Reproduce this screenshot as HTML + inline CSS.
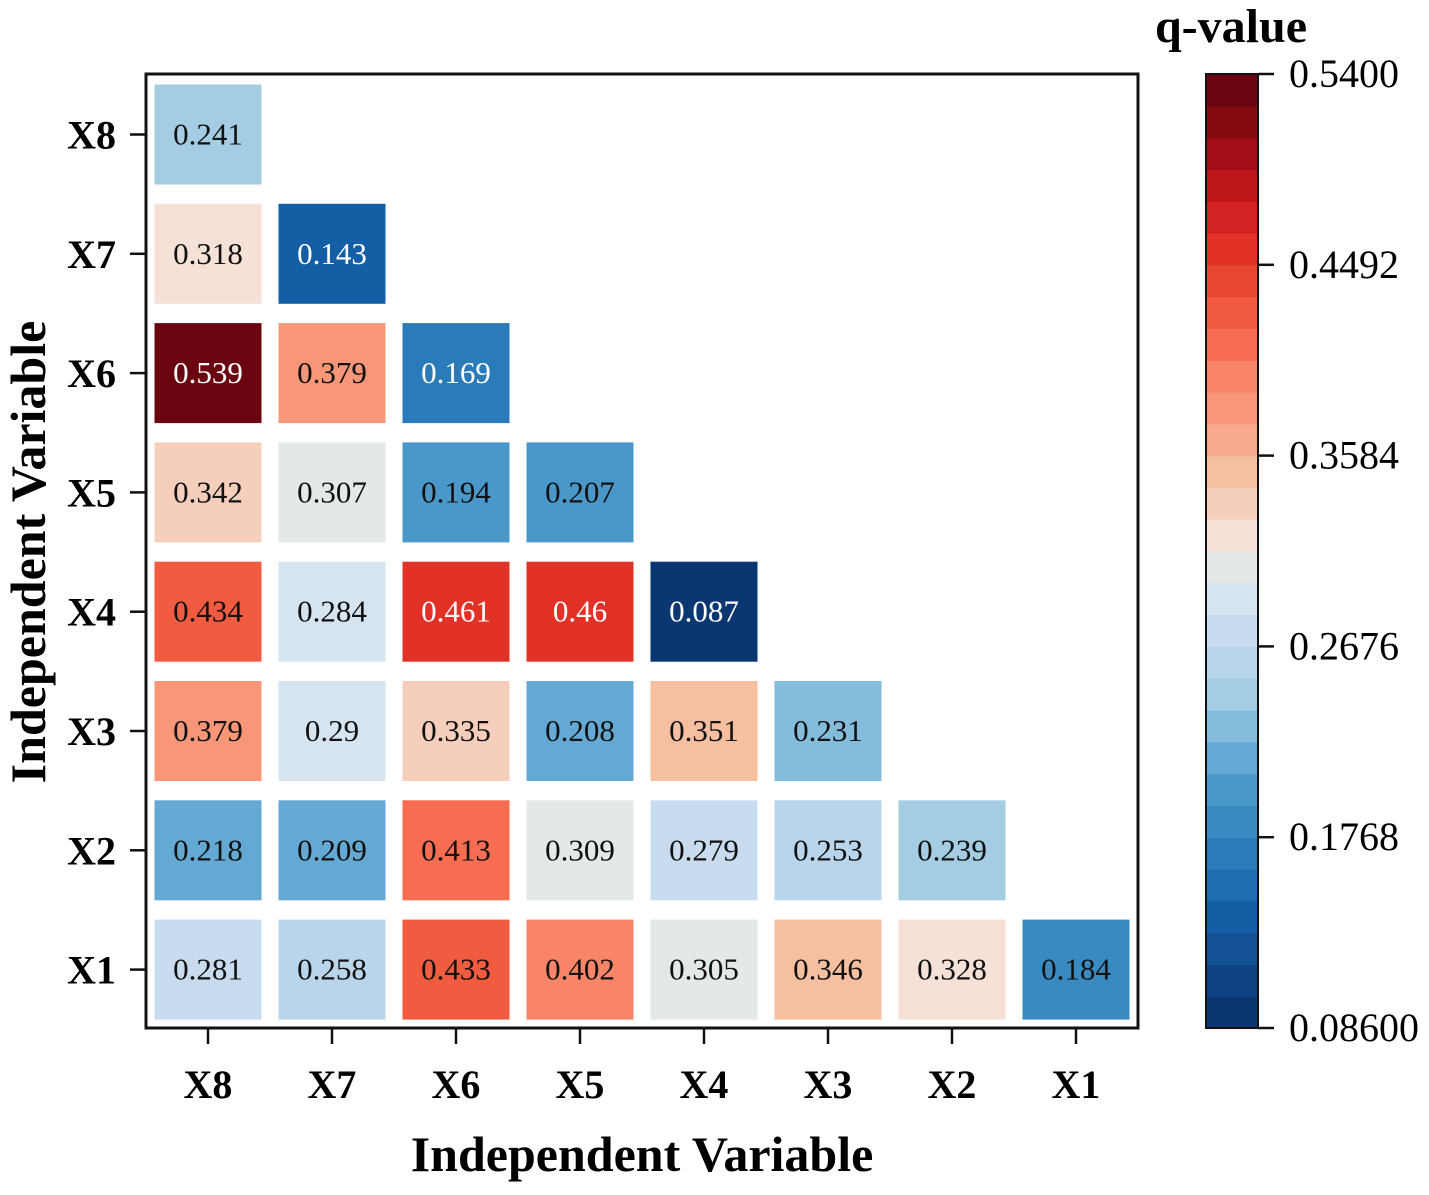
<!DOCTYPE html>
<html><head><meta charset="utf-8"><style>
body{margin:0;background:#fff;}
svg text{font-family:"Liberation Serif",serif;}
</style></head><body>
<svg id="chart" width="1429" height="1190" xmlns="http://www.w3.org/2000/svg">
<rect width="1429" height="1190" fill="#fff"/>
<g id="cells"></g>
<rect x="146" y="74" width="992" height="954" fill="none" stroke="#111" stroke-width="3"/>
<g id="axes"></g>
<text x="642" y="1171" font-size="50" font-weight="bold" text-anchor="middle">Independent Variable</text>
<text transform="translate(45,552) rotate(-90)" font-size="50" font-weight="bold" text-anchor="middle">Independent Variable</text>
<text x="1231" y="42" font-size="48" font-weight="bold" text-anchor="middle">q-value</text>
<g id="cbar"></g>
</svg>
<script>
const labels=["X8","X7","X6","X5","X4","X3","X2","X1"];
const rowX8=[0.241];
const rowX7=[0.318,0.143];
const rowX6=[0.539,0.379,0.169];
const rowX5=[0.342,0.307,0.194,0.207];
const rowX4=[0.434,0.284,0.461,0.46,0.087];
const rowX3=[0.379,0.29,0.335,0.208,0.351,0.231];
const rowX2=[0.218,0.209,0.413,0.309,0.279,0.253,0.239];
const rowX1=[0.281,0.258,0.433,0.402,0.305,0.346,0.328,0.184];
const cbTicks=["0.5400","0.4492","0.3584","0.2676","0.1768","0.08600"];
const vmin=0.086, vmax=0.54, nBins=30;
const rows=[rowX8,rowX7,rowX6,rowX5,rowX4,rowX3,rowX2,rowX1];
const stops=[[0.087,"#08306b"],[0.143,"#1562a9"],[0.169,"#2b7bba"],[0.184,"#3a8ac2"],[0.194,"#4292c6"],[0.208,"#57a0ce"],[0.218,"#6aaed6"],[0.231,"#87bddc"],[0.241,"#9ecae1"],[0.258,"#b7d4ea"],[0.279,"#cddcf0"],[0.29,"#d6e4f0"],[0.307,"#e3e9e6"],[0.318,"#f5e4dc"],[0.335,"#f6d0bd"],[0.351,"#f6bfa0"],[0.379,"#f79a7a"],[0.402,"#fa7e62"],[0.413,"#f76a4e"],[0.434,"#ee5236"],[0.46,"#e02e26"],[0.48,"#c81a1e"],[0.5,"#a80f16"],[0.52,"#800a12"],[0.54,"#5f0010"]];
function hex(h){return [1,3,5].map(i=>parseInt(h.substr(i,2),16));}
function interp(v){
 if(v<=stops[0][0])return stops[0][1];
 for(let i=1;i<stops.length;i++){if(v<=stops[i][0]){const a=stops[i-1],b=stops[i];const t=(v-a[0])/(b[0]-a[0]);const ca=hex(a[1]),cb=hex(b[1]);return "rgb("+ca.map((c,k)=>Math.round(c+(cb[k]-c)*t)).join(",")+")";}}
 return stops[stops.length-1][1];}
function color(v){let b=Math.floor((v-vmin)/(vmax-vmin)*nBins);b=Math.max(0,Math.min(nBins-1,b));return interp(vmin+(b+0.5)*(vmax-vmin)/nBins);}
const NS="http://www.w3.org/2000/svg";
function xc(i){return 208+i*124;}
function yc(j){return 134.5+j*119.3;}
function cbY(v){return 1028-(v-vmin)/(vmax-vmin)*954;}
function mk(tag,attrs,parent){const e=document.createElementNS(NS,tag);for(const k in attrs)e.setAttribute(k,attrs[k]);parent.appendChild(e);return e;}
const cells=document.getElementById('cells');
rows.forEach((r,j)=>r.forEach((v,i)=>{
 const rc=mk('rect',{x:xc(i)-53.5,y:yc(j)-50,width:107,height:100,fill:color(v)},cells);
 
 
 const t=mk('text',{x:xc(i),y:yc(j)+10,'font-size':31,'text-anchor':'middle',fill:(v<0.175||v>0.445)?'#fff':'#111'},cells);
 
 
 t.textContent=String(v);
}));
const axes=document.getElementById('axes');
labels.forEach((l,j)=>{
 mk('line',{x1:130,x2:146,y1:yc(j),y2:yc(j),stroke:'#111','stroke-width':2.5},axes);
 const t=mk('text',{x:116,y:yc(j)+14,'font-size':40,'font-weight':'bold','text-anchor':'end'},axes);
 
 
 t.textContent=l;
});
labels.forEach((l,i)=>{
 mk('line',{x1:xc(i),x2:xc(i),y1:1028,y2:1044,stroke:'#111','stroke-width':2.5},axes);
 const t=mk('text',{x:xc(i),y:1098,'font-size':40,'font-weight':'bold','text-anchor':'middle'},axes);
 
 
 t.textContent=l;
});
const cb=document.getElementById('cbar');
for(let b=0;b<nBins;b++){
 const v0=vmin+b*(vmax-vmin)/nBins,v1=vmin+(b+1)*(vmax-vmin)/nBins;
 const r=mk('rect',{x:1206,y:cbY(v1),width:52,height:cbY(v0)-cbY(v1)+0.6,fill:color((v0+v1)/2)},cb);
 
 
}
mk('rect',{x:1206,y:74,width:52,height:954,fill:'none',stroke:'#111','stroke-width':2},cb);
cbTicks.forEach(s=>{
 const v=parseFloat(s),y=cbY(v);
 mk('line',{x1:1258,x2:1274,y1:y,y2:y,stroke:'#111','stroke-width':2.5},cb);
 const t=mk('text',{x:1289,y:y+13,'font-size':40},cb);
 
 
 t.textContent=s;
});
</script>
</body></html>
